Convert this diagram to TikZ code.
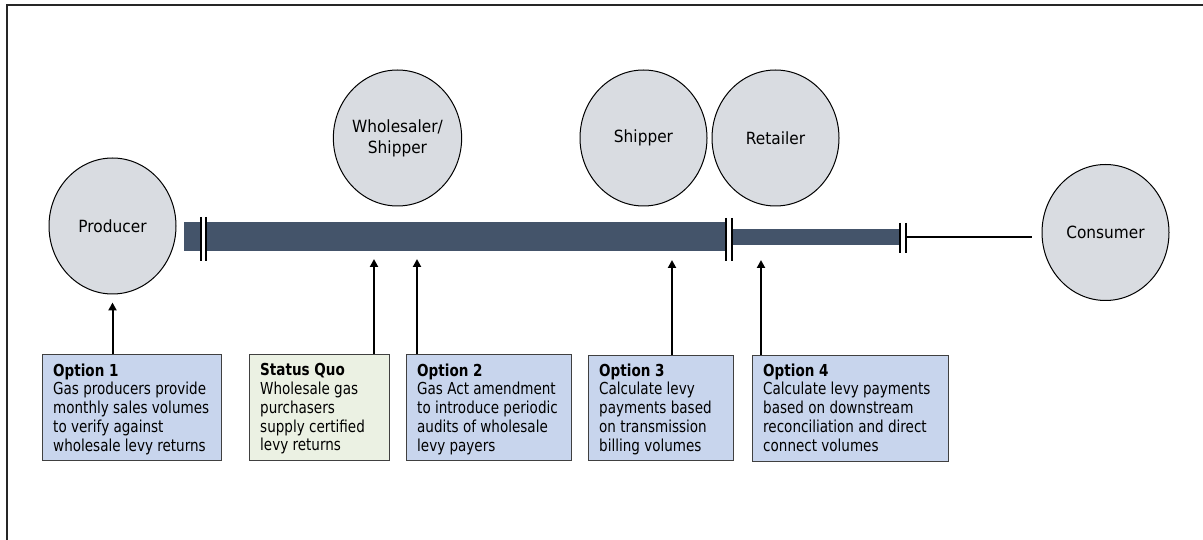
\documentclass[tikz,border=0pt]{standalone}
\usepackage{fontspec}
\usetikzlibrary{shapes.geometric,arrows.meta,calc}
\newfontfamily\boxfont[FakeStretch=0.82]{DejaVu Sans}
\newfontfamily\circfont[FakeStretch=0.915]{DejaVu Sans}
\definecolor{circfill}{HTML}{D9DCE1}
\definecolor{pipecol}{HTML}{44546A}
\definecolor{bluefill}{HTML}{C8D5ED}
\definecolor{greenfill}{HTML}{EBF1E3}
\definecolor{boxline}{HTML}{404040}
\begin{document}
\begin{tikzpicture}[x=1pt,y=-1pt,
  actor/.style={ellipse, draw=black, line width=1pt, fill=circfill, minimum width=127pt, minimum height=136pt, inner sep=0pt, align=center, font=\circfont\fontsize{16.8}{21}\selectfont},
  optbox/.style={rectangle, draw=boxline, line width=1pt, minimum height=106pt, inner sep=0pt, anchor=north west},
  opttext/.style={anchor=north west, inner sep=0pt, align=left, font=\boxfont\fontsize{16.5}{18.7}\selectfont},
  pipe/.style={rectangle, fill=pipecol, draw=none, inner sep=0pt, anchor=north west},
  jointbar/.style={line width=2pt, black},
  arr/.style={line width=2pt, -{Triangle[width=8pt,length=8pt]}}
]
\useasboundingbox (0,0) rectangle (1203,540);
% frame
\draw[line width=1.3pt, black!85] (7,540) -- (7,5) -- (1203,5);

% actors
\node[actor] (producer) at (112.5,226) {Producer};
\node[actor] (wholesaler) at (397.5,138) {Wholesaler/\\Shipper};
\node[actor] (shipper) at (643.5,138) {Shipper};
\node[actor] (retailer) at (775.5,138) {Retailer};
\node[actor] (consumer) at (1105.5,232.5) {Consumer};

% pipes
\node[pipe, minimum width=542pt, minimum height=29pt] (pipe1) at (184,222) {};
\node[pipe, minimum width=166pt, minimum height=16pt] (pipe2) at (733,229) {};

% joints
\fill[white] (201.5,221) rectangle (205.2,252);
\draw[jointbar] (200.5,217) -- (200.5,261);
\draw[jointbar] (206.2,217) -- (206.2,261);
\fill[white] (727.3,221) rectangle (731.3,252);
\draw[jointbar] (726.3,218) -- (726.3,261);
\draw[jointbar] (732.3,218) -- (732.3,261);
\draw[jointbar] (900,223) -- (900,253);
\draw[jointbar] (906,223) -- (906,253);

% line to consumer
\coordinate (j3) at (906,237);
\coordinate (cend) at (1032,237);
\draw[line width=1.5pt] (j3) -- (cend);

% option boxes
\node[optbox, fill=bluefill, minimum width=179pt] (o1box) at (42,354) {};
\node[optbox, fill=greenfill, minimum width=140pt] (sqbox) at (249,354) {};
\node[optbox, fill=bluefill, minimum width=165pt] (o2box) at (406,354) {};
\node[optbox, fill=bluefill, minimum width=145pt, minimum height=105pt] (o3box) at (588,355) {};
\node[optbox, fill=bluefill, minimum width=196pt] (o4box) at (752,355) {};

\node[opttext] (o1text) at ($(o1box.north west)+(11,9.5)$) {\textbf{Option 1}\\Gas producers provide\\monthly sales volumes\\to verify against\\wholesale levy returns};
\node[opttext] (sqtext) at ($(sqbox.north west)+(11,9.5)$) {\textbf{Status Quo}\\Wholesale gas\\purchasers\\supply certified\\levy returns};
\node[opttext] (o2text) at ($(o2box.north west)+(11,9.5)$) {\textbf{Option 2}\\Gas Act amendment\\to introduce periodic\\audits of wholesale\\levy payers};
\node[opttext] (o3text) at ($(o3box.north west)+(11,8.5)$) {\textbf{Option 3}\\Calculate levy\\payments based\\on transmission\\billing volumes};
\node[opttext] (o4text) at ($(o4box.north west)+(11,8.5)$) {\textbf{Option 4}\\Calculate levy payments\\based on downstream\\reconciliation and direct\\connect volumes};

% arrow tips
\coordinate (tsq) at (374,259);
\coordinate (to2) at (417,259);
\coordinate (to3) at (672,260);
\coordinate (to4) at (761,260);

\draw[arr] (o1box.north -| producer.south) -- ($(producer.south)+(0,8)$);
\draw[arr] (sqbox.north -| tsq) -- (tsq);
\draw[arr] (o2box.north -| to2) -- (to2);
\draw[arr] (o3box.north -| to3) -- (to3);
\draw[arr] (o4box.north -| to4) -- (to4);
\end{tikzpicture}
\end{document}
